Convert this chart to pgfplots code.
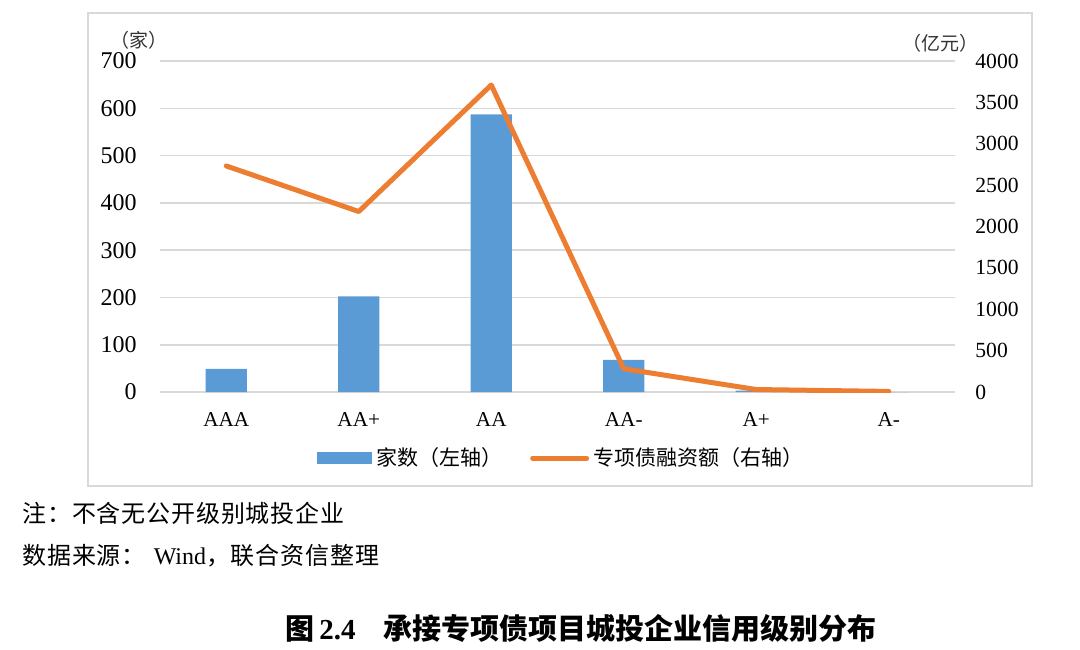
\documentclass[border=0pt]{standalone}
\usepackage{fontspec}
\setmainfont{Liberation Serif}
\newfontfamily\cjk{Noto Sans CJK SC}
\newfontfamily\cjknote{Noto Sans CJK SC}[LetterSpace=3.5]
\usepackage{pgfplots}
\pgfplotsset{compat=1.18}
\definecolor{barblue}{HTML}{5B9BD5}
\definecolor{lineorange}{HTML}{ED7D31}
\definecolor{gridgray}{HTML}{D9D9D9}

\begin{document}
\begin{tikzpicture}
\path[use as bounding box] (0pt,0pt) rectangle (540pt,-324.5pt);
\draw[gridgray, line width=0.9pt] (44pt,-6.5pt) rectangle (516pt,-243pt);

% left axis: number of companies (bars)
\begin{axis}[
  at={(80pt,-196pt)}, anchor=south west,
  scale only axis, width=397.5pt, height=165.5pt,
  xmin=-0.5, xmax=5.5, ymin=0, ymax=700,
  ytick={0,100,...,700},
  xtick={0,...,5}, xticklabels={AAA,AA+,AA,AA-,A+,A-},
  axis line style={draw=none}, major tick length=0pt,
  ymajorgrids, grid style={gridgray, line width=0.8pt},
  yticklabel style={font=\fontsize{12}{12}\selectfont, inner sep=0pt, xshift=-11.5pt},
  xticklabel style={font=\fontsize{10.6}{10.6}\selectfont, inner sep=0pt, yshift=-10pt},
  /pgf/number format/assume math mode=true,
]
\addplot[ybar, bar width=20.7pt, fill=barblue, draw=none]
  coordinates {(0,49) (1,202) (2,587) (3,68) (4,3) (5,0)};
\end{axis}

% right axis: special bond financing (line)
\begin{axis}[
  at={(80pt,-196pt)}, anchor=south west,
  scale only axis, width=397.5pt, height=165.5pt,
  xmin=-0.5, xmax=5.5, ymin=0, ymax=4000,
  ytick={0,500,...,4000},
  axis y line*=right, hide x axis,
  axis line style={draw=none}, major tick length=0pt,
  yticklabel style={font=\fontsize{10.8}{10.8}\selectfont, inner sep=0pt, xshift=10pt},
  /pgf/number format/assume math mode=true,
  /pgf/number format/1000 sep={},
  legend style={at={(0.506,-0.2)}, anchor=center, draw=none, fill=none,
    legend columns=2, font=\cjk\fontsize{10.5}{10.5}\selectfont,
    /tikz/every even column/.append style={column sep=12pt}},
  legend cell align=left,
]
\addlegendimage{legend image code/.code={\fill[barblue] (0pt,-2.8pt) rectangle (27pt,2.8pt);}}
\addlegendentry{家数（左轴）}
\addplot[lineorange, line width=2.5pt, line join=round, line cap=round, mark=none,
  legend image code/.code={\draw[lineorange, line width=2.5pt, line cap=round] (0pt,0pt) -- (27pt,0pt);}]
  coordinates {(0,2732) (1,2181) (2,3710) (3,281) (4,30) (5,7)};
\addlegendentry{专项债融资额（右轴）}
\end{axis}

\begin{scope}[x=0.5pt, y=-0.5pt]
\node[font=\cjk\fontsize{9.5}{9.5}\selectfont, text=black!80] at (139,40) {（家）};
\node[font=\cjk\fontsize{9.5}{9.5}\selectfont, text=black!80] at (940,43) {（亿元）};
\node[anchor=west, inner sep=0pt, font=\cjknote\fontsize{12}{12}\selectfont] at (22,513) {注：不含无公开级别城投企业};
\node[anchor=west, inner sep=0pt, font=\fontsize{12}{12}\selectfont] at (22,556)
  {{\cjknote 数据来源：}\hspace{4pt}Wind{\cjknote ，联合资信整理}};
\node[inner sep=0pt, font=\fontsize{14.5}{14.5}\selectfont\bfseries] at (581,628)
  {{\cjk 图}\,2.4\hspace{14pt}{\cjk 承接专项债项目城投企业信用级别分布}};
\end{scope}
\end{tikzpicture}
\end{document}
